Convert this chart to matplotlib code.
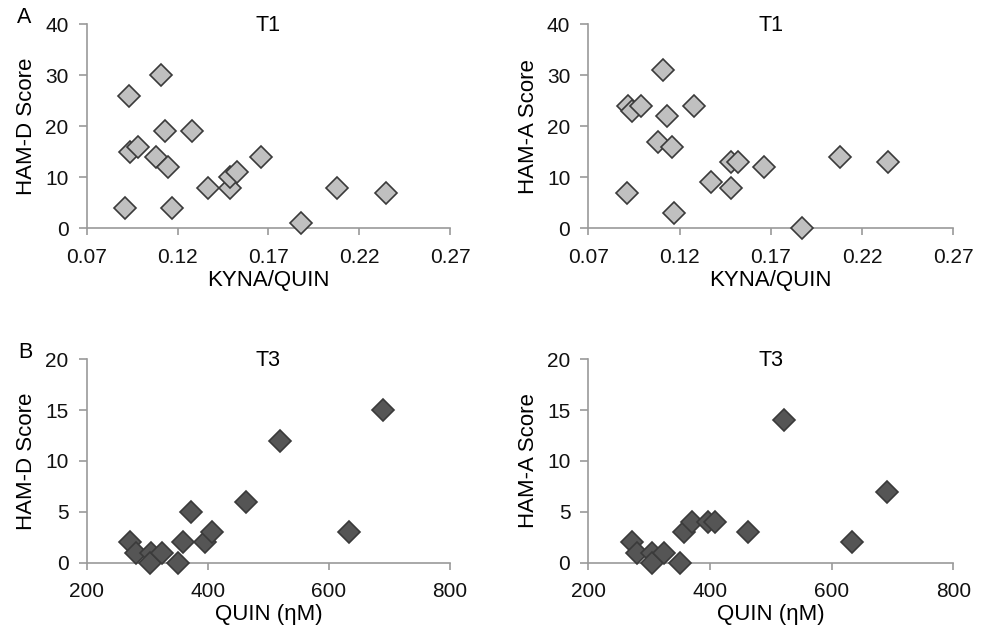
import matplotlib.pyplot as plt

# T1: KYNA/QUIN ratio vs scores
kyna_hamd_x = [0.093, 0.111, 0.094, 0.098, 0.113, 0.128, 0.108, 0.115, 0.091, 0.117,
               0.137, 0.149, 0.149, 0.153, 0.166, 0.188, 0.208, 0.235]
kyna_hamd_y = [26, 30, 15, 16, 19, 19, 14, 12, 4, 4, 8, 8, 10, 11, 14, 1, 8, 7]

kyna_hama_x = [0.091, 0.092, 0.094, 0.099, 0.111, 0.113, 0.108, 0.116, 0.117, 0.128,
               0.137, 0.148, 0.148, 0.152, 0.166, 0.187, 0.208, 0.234]
kyna_hama_y = [7, 24, 23, 24, 31, 22, 17, 16, 3, 24, 9, 8, 13, 13, 12, 0, 14, 13]

# T3: QUIN vs scores
quin_hamd_x = [271, 281, 306, 305, 325, 350, 359, 372, 395, 407, 463, 520, 633, 689]
quin_hamd_y = [2, 1, 1, 0, 1, 0, 2, 5, 2, 3, 6, 12, 3, 15]

quin_hama_x = [271, 280, 305, 305, 324, 351, 358, 371, 396, 409, 463, 522, 634, 691]
quin_hama_y = [2, 1, 1, 0, 1, 0, 3, 4, 4, 4, 3, 14, 2, 7]

plt.rcParams['font.family'] = ['Liberation Sans', 'DejaVu Sans']

fig = plt.figure(figsize=(9.89, 6.36), dpi=100, facecolor='white')

panels = [
    # rect, x, y, ylabel, xlabel, title, fill, xlim, xticks, ylim, yticks
    ([0.0877, 0.641, 0.3673, 0.3208], kyna_hamd_x, kyna_hamd_y, 'HAM-D Score', 'KYNA/QUIN', 'T1',
     '#c0c0c0', (0.07, 0.27), [0.07, 0.12, 0.17, 0.22, 0.27], (0, 40), [0, 10, 20, 30, 40]),
    ([0.5949, 0.641, 0.3690, 0.3208], kyna_hama_x, kyna_hama_y, 'HAM-A Score', 'KYNA/QUIN', 'T1',
     '#c0c0c0', (0.07, 0.27), [0.07, 0.12, 0.17, 0.22, 0.27], (0, 40), [0, 10, 20, 30, 40]),
    ([0.0877, 0.1152, 0.3673, 0.3200], quin_hamd_x, quin_hamd_y, 'HAM-D Score', 'QUIN (ηM)', 'T3',
     '#555555', (200, 800), [200, 400, 600, 800], (0, 20), [0, 5, 10, 15, 20]),
    ([0.5949, 0.1152, 0.3690, 0.3200], quin_hama_x, quin_hama_y, 'HAM-A Score', 'QUIN (ηM)', 'T3',
     '#555555', (200, 800), [200, 400, 600, 800], (0, 20), [0, 5, 10, 15, 20]),
]

for rect, xs, ys, ylab, xlab, title, fill, xlim, xticks, ylim, yticks in panels:
    ax = fig.add_axes(rect)
    ax.plot(xs, ys, linestyle='none', marker='D', markersize=11,
            markerfacecolor=fill, markeredgecolor='#3a3a3a', markeredgewidth=1.2,
            clip_on=False, zorder=3)
    ax.set_xlim(*xlim)
    ax.set_ylim(*ylim)
    ax.set_xticks(xticks)
    ax.set_yticks(yticks)
    if xlim[1] < 1:
        ax.set_xticklabels(['%.2f' % t for t in xticks])
    for side in ['top', 'right']:
        ax.spines[side].set_visible(False)
    for side in ['left', 'bottom']:
        ax.spines[side].set_color('#9a9a9a')
        ax.spines[side].set_linewidth(1.2)
    ax.tick_params(direction='out', width=1.2, color='#9a9a9a',
                   labelsize=15, labelcolor='#111111')
    ax.tick_params(axis='y', length=6, pad=7)
    ax.tick_params(axis='x', length=5, pad=9)
    ax.set_ylabel(ylab, fontsize=16, labelpad=6)
    ax.set_xlabel(xlab, fontsize=16, labelpad=2)
    ax.text(0.5, 0.993, title, transform=ax.transAxes, ha='center', va='center',
            fontsize=15.5)

fig.text(0.0243, 0.973, 'A', fontsize=15.5, ha='center', va='center')
fig.text(0.0253, 0.4465, 'B', fontsize=15.5, ha='center', va='center')

fig.savefig('out.png', dpi=100, facecolor='white')
